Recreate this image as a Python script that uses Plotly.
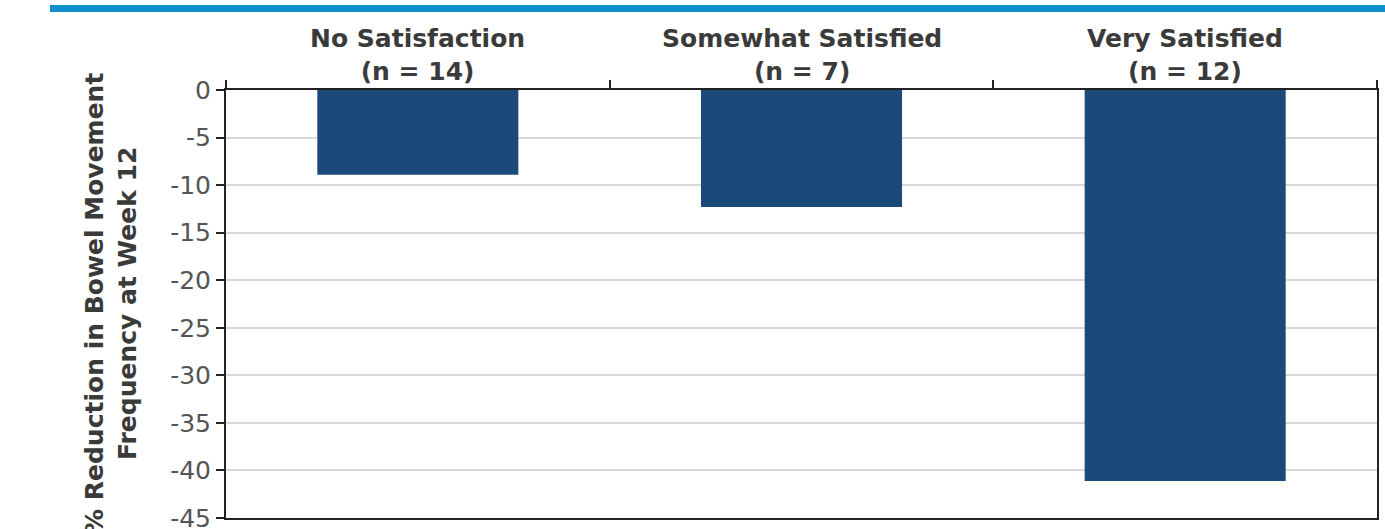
import plotly.graph_objects as go

categories = ["No Satisfaction", "Somewhat Satisfied", "Very Satisfied"]
n_values = [14, 7, 12]
reductions = [-8.9, -12.3, -41.1]
y_ticks = [0, -5, -10, -15, -20, -25, -30, -35, -40, -45]

x_pos = [i + 0.5 for i in range(len(categories))]

fig = go.Figure()
fig.add_trace(go.Bar(
    x=x_pos, y=reductions, width=0.524,
    marker=dict(color="#1b4a7a", line=dict(width=0)),
    showlegend=False, hoverinfo="skip",
))

axis_color = "#222222"
fig.update_layout(
    width=1385, height=529,
    margin=dict(l=226, r=8, t=90, b=11, autoexpand=False),
    paper_bgcolor="white", plot_bgcolor="white",
    font=dict(family="DejaVu Sans", color="#444444"),
    xaxis=dict(
        range=[0, 3], side="top", tickvals=[0, 1, 2, 3], ticktext=["", "", "", ""],
        ticks="outside", ticklen=8, tickwidth=2, tickcolor=axis_color,
        showline=True, linecolor=axis_color, linewidth=2, mirror=True,
        showgrid=False, zeroline=False, fixedrange=True, automargin=False,
    ),
    yaxis=dict(
        range=[-45, 0], tickvals=y_ticks, ticktext=[str(v) for v in y_ticks],
        ticks="outside", ticklen=8, tickwidth=2, tickcolor=axis_color,
        tickfont=dict(size=25, color="#555555", family="DejaVu Sans"),
        ticklabeloverflow="allow", automargin=False,
        showline=True, linecolor=axis_color, linewidth=2, mirror=True,
        showgrid=True, gridcolor="#d9d9d9", gridwidth=2, zeroline=False,
    ),
    shapes=[dict(
        type="rect", xref="paper", yref="paper",
        x0=(50 - 226) / 1151, x1=(1400 - 226) / 1151,
        y0=(518 - 12) / 428, y1=(518 - 5) / 428,
        fillcolor="#1190d0", line=dict(width=0), layer="above",
    )],
)

for xp, cat, n in zip(x_pos, categories, n_values):
    fig.add_annotation(
        x=xp, xref="x", y=1.0, yref="paper", yanchor="bottom", yshift=2,
        text=f"<b>{cat}<br>(n = {n})</b>", showarrow=False,
        font=dict(size=25, color="#3a3a3a", family="DejaVu Sans"),
    )

fig.add_annotation(
    x=(111 - 226) / 1151, xref="paper", y=0.5, yref="paper",
    xanchor="center", yanchor="middle", textangle=-90,
    text="<b>% Reduction in Bowel Movement<br>Frequency at Week 12</b>",
    showarrow=False, font=dict(size=25, color="#3a3a3a", family="DejaVu Sans"),
)

fig.write_html("out.html")
